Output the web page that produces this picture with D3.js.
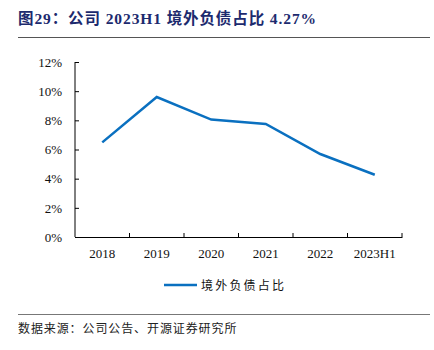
<!DOCTYPE html>
<html>
<head>
<meta charset="utf-8">
<script src="https://cdn.jsdelivr.net/npm/d3@7"></script>
<style>
  body { margin: 0; background: #fff; }
  text { font-family: "Liberation Serif", "Noto Sans CJK SC", serif; }
</style>
</head>
<body>
<script>
var categories = ['2018', '2019', '2020', '2021', '2022', '2023H1'];
var values = [6.49, 9.60, 8.05, 7.75, 5.69, 4.27];
var yTicks = [0, 2, 4, 6, 8, 10, 12];
var seriesName = '境外负债占比';
var title = '图29：公司 2023H1 境外负债占比 4.27%';
var source = '数据来源：公司公告、开源证券研究所';

var width = 434,
    height = 350,
    padding = { top: 62, bottom: 113, left: 75, right: 32 };

var svg = d3.select('body')
    .append('svg')
    .attr('width', width)
    .attr('height', height)

// title + rules
svg.append('text')
    .attr('x', 18).attr('y', 24)
    .attr('font-size', 15.5)
    .attr('font-weight', 'bold')
    .attr('letter-spacing', 0.9)
    .attr('fill', '#1c2a6e')
    .text(title)

svg.append('line')
    .attr('x1', 18).attr('x2', 430).attr('y1', 37.5).attr('y2', 37.5)
    .attr('stroke', '#555').attr('stroke-width', 1)

svg.append('line')
    .attr('x1', 18).attr('x2', 430).attr('y1', 314.5).attr('y2', 314.5)
    .attr('stroke', '#777').attr('stroke-width', 1)

svg.append('text')
    .attr('x', 18).attr('y', 333)
    .attr('font-size', 12)
    .attr('letter-spacing', 0.9)
    .attr('fill', '#222')
    .style('font-family', '"Noto Sans CJK SC"')
    .text(source)

var innerW = width - padding.left - padding.right,
    innerH = height - padding.top - padding.bottom;

var g = svg.append('g')
    .attr('transform', `translate(${padding.left}, ${padding.top})`)

var xScale = d3.scaleBand()
    .domain(categories)
    .range([0, innerW])

var yScale = d3.scaleLinear()
    .domain([0, 12])
    .range([innerH, 0])

var xAxis = d3.axisBottom(xScale)
    .tickSize(0)
    .tickPadding(12)

var yAxis = d3.axisLeft(yScale)
    .tickValues(yTicks)
    .tickFormat(d => d + '%')
    .tickSize(-4)
    .tickPadding(13)

var gx = g.append('g')
    .attr('transform', `translate(0, ${innerH})`)
    .call(xAxis)

// band boundary ticks pointing up
gx.selectAll('.bound')
    .data(categories)
    .enter().append('line')
    .attr('class', 'bound')
    .attr('x1', d => xScale(d) + xScale.bandwidth())
    .attr('x2', d => xScale(d) + xScale.bandwidth())
    .attr('y1', 0).attr('y2', -4)
    .attr('stroke', '#000')

var gy = g.append('g').call(yAxis)

gx.select('.domain').attr('stroke', '#000')
gy.select('.domain').attr('d', `M0,0V${innerH}`).attr('stroke', '#000')

;[gx, gy].forEach(function (a) {
    a.selectAll('text')
        .attr('font-size', 13)
        .attr('fill', '#111')
        .style('font-family', '"Liberation Serif", serif')
})

var line = d3.line()
    .x((d, i) => xScale(categories[i]) + xScale.bandwidth() / 2)
    .y(d => yScale(d))

g.append('path')
    .attr('d', line(values))
    .attr('fill', 'none')
    .attr('stroke', '#0a70c0')
    .attr('stroke-width', 2.5)

// legend
var lg = svg.append('g').attr('transform', 'translate(164, 285)')
lg.append('line')
    .attr('x1', 0).attr('x2', 33).attr('y1', 0).attr('y2', 0)
    .attr('stroke', '#0a70c0').attr('stroke-width', 2.5)
lg.append('text')
    .attr('x', 37).attr('y', 4.5)
    .attr('font-size', 12)
    .attr('letter-spacing', 2.2)
    .attr('fill', '#111')
    .style('font-family', '"Noto Sans CJK SC"')
    .text(seriesName)
</script>
</body>
</html>
